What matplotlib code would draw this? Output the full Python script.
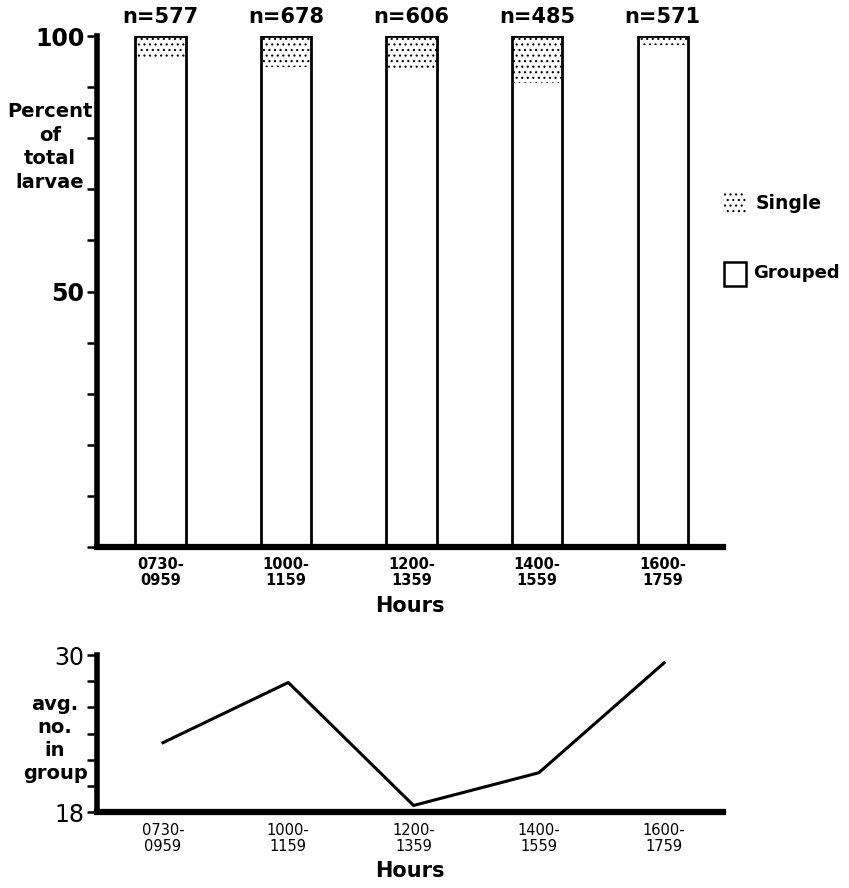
import matplotlib
matplotlib.use("Agg")
import matplotlib.pyplot as plt
from matplotlib.patches import Rectangle

plt.rcParams['font.family'] = ['Liberation Sans Narrow', 'DejaVu Sans']
plt.rcParams['hatch.linewidth'] = 0.8

hours = ['0730-\n0959', '1000-\n1159', '1200-\n1359', '1400-\n1559', '1600-\n1759']
n_larvae = [577, 678, 606, 485, 571]
single_pct = [4.1, 6.1, 6.8, 9.2, 1.8]
grouped_pct = [100 - s for s in single_pct]
avg_in_group = [23.3, 27.9, 18.5, 21.0, 29.4]

W, H = 849, 888
fig = plt.figure(figsize=(W / 100, H / 100), dpi=100)

def fx(px):
    return px / W

def fy(py):
    return 1 - py / H

# ---------- top chart ----------
ax = fig.add_axes([fx(97), fy(547), fx(723) - fx(97), fy(36) - fy(547)])
x = list(range(len(hours)))
ax.bar(x, grouped_pct, width=0.4, color='white', edgecolor='none', zorder=2)
ax.bar(x, single_pct, bottom=grouped_pct, width=0.4, color='white',
       edgecolor='black', linewidth=0, hatch='...', zorder=2)
ax.bar(x, [g + s for g, s in zip(grouped_pct, single_pct)], width=0.4,
       fill=False, edgecolor='black', linewidth=2, zorder=3)
ax.set_xlim(-0.505, 4.48)
ax.set_ylim(0, 100)
for s in ['top', 'right']:
    ax.spines[s].set_visible(False)
ax.spines['left'].set_linewidth(4)
ax.spines['bottom'].set_linewidth(4.5)
ax.set_yticks(range(0, 101, 10))
ax.set_yticklabels(['' if v not in (50, 100) else str(v) for v in range(0, 101, 10)])
ax.tick_params(axis='y', direction='out', length=7, width=1.8, labelsize=17, pad=2)
for lab in ax.get_yticklabels():
    lab.set_fontweight('bold')
ax.set_xticks(x)
ax.set_xticklabels(hours, fontsize=10.5, fontweight='bold', linespacing=1.1)
ax.tick_params(axis='x', length=0, pad=7)
for i, nv in enumerate(n_larvae):
    ax.text(i, 101.8, f'n={nv}', ha='center', va='bottom', fontsize=15,
            fontweight='bold', clip_on=False)
ax.set_xlabel('Hours', fontsize=15, fontweight='bold', labelpad=6)
fig.text(fx(50), fy(147), 'Percent\nof\ntotal\nlarvae', ha='center', va='center',
         fontsize=14, fontweight='bold', linespacing=1.3)

# legend
fig.add_artist(Rectangle((fx(723), fy(214)), fx(746) - fx(723), fy(190) - fy(214),
                         transform=fig.transFigure, facecolor='white',
                         edgecolor='black', linewidth=0, hatch='...'))
fig.text(fx(756), fy(203), 'Single', ha='left', va='center', fontsize=13.5, fontweight='bold')
fig.add_artist(Rectangle((fx(724), fy(286)), fx(746) - fx(724), fy(262) - fy(286),
                         transform=fig.transFigure, facecolor='white',
                         edgecolor='black', linewidth=1.8))
fig.text(fx(753), fy(273), 'Grouped', ha='left', va='center', fontsize=13, fontweight='bold')

# ---------- bottom chart ----------
ax2 = fig.add_axes([fx(97), fy(812), fx(723) - fx(97), fy(655) - fy(812)])
ax2.plot(x, avg_in_group, color='black', linewidth=2.2)
ax2.set_xlim(-0.527, 4.47)
ax2.set_ylim(18, 30)
for s in ['top', 'right']:
    ax2.spines[s].set_visible(False)
ax2.spines['left'].set_linewidth(4)
ax2.spines['bottom'].set_linewidth(4.5)
ax2.set_yticks(range(18, 31, 2))
ax2.set_yticklabels(['' if v not in (18, 30) else str(v) for v in range(18, 31, 2)])
ax2.tick_params(axis='y', direction='out', length=7, width=1.8, labelsize=17, pad=2)
ax2.set_xticks(x)
ax2.set_xticklabels(hours, fontsize=10.5, linespacing=1.1)
ax2.tick_params(axis='x', length=0, pad=8)
ax2.set_xlabel('Hours', fontsize=15, fontweight='bold', labelpad=5)
fig.text(fx(55), fy(739), 'avg.\nno.\nin\ngroup', ha='center', va='center',
         fontsize=14, fontweight='bold', linespacing=1.25)

fig.savefig('out.png', dpi=100, facecolor='white')
